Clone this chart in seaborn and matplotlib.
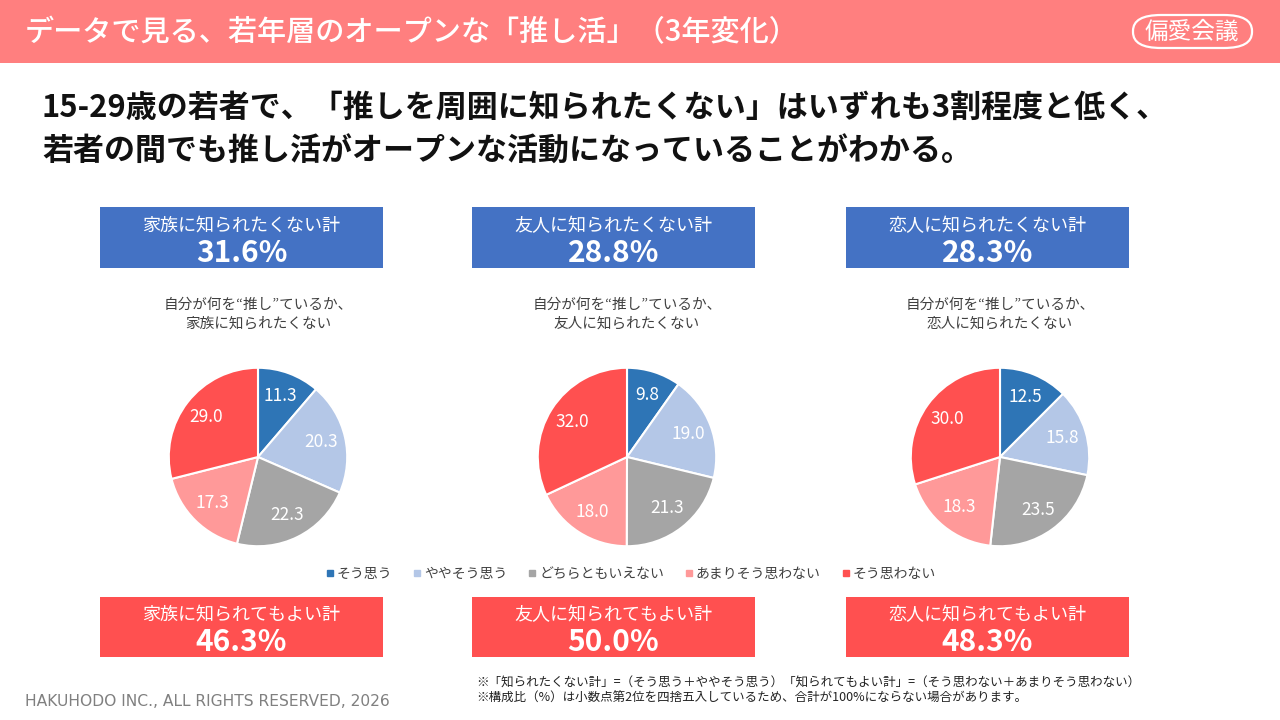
import matplotlib
matplotlib.use("Agg")
import matplotlib.pyplot as plt
from matplotlib.patches import Rectangle, FancyBboxPatch
from matplotlib.lines import Line2D
import seaborn as sns

# ---- data ----
groups = ["家族", "友人", "恋人"]
categories = ["そう思う", "ややそう思う", "どちらともいえない", "あまりそう思わない", "そう思わない"]
family = [11.3, 20.3, 22.3, 17.3, 29.0]
friend = [9.8, 19.0, 21.3, 18.0, 32.0]
partner = [12.5, 15.8, 23.5, 18.3, 30.0]
not_known_total = [31.6, 28.8, 28.3]
ok_known_total = [46.3, 50.0, 48.3]

sns.set_theme(style="white")
plt.rcParams["font.family"] = ["Noto Sans CJK JP", "DejaVu Sans"]

palette = sns.color_palette(["#2E75B6", "#B4C7E7", "#A5A5A5", "#FF9999", "#FF5050"])
BLUE_BOX = "#4472C4"
RED_BOX = "#FF5050"
HEADER = "#FF7F7F"

W, H = 1280, 720
fig = plt.figure(figsize=(12.8, 7.2), dpi=100)
fig.patch.set_facecolor("white")


def fx(x):
    return x / W


def fy(y):
    return 1 - y / H


def rect(x0, y0, x1, y1, color):
    fig.patches.append(Rectangle((fx(x0), fy(y1)), fx(x1 - x0), (y1 - y0) / H,
                                 transform=fig.transFigure, facecolor=color,
                                 edgecolor="none", zorder=0))


# ---- header ----
rect(0, 0, W, 63, HEADER)
fig.text(fx(25), fy(33), "データで見る、若年層のオープンな「推し活」（3年変化）",
         color="white", fontsize=21, fontweight="medium", va="center", ha="left")
fig.patches.append(FancyBboxPatch((fx(1133), fy(48)), fx(119), 33 / H,
                                  boxstyle="round,pad=0,rounding_size=0.022",
                                  transform=fig.transFigure, facecolor="none",
                                  edgecolor="white", linewidth=1.6))
fig.text(fx(1192), fy(32), "偏愛会議", color="white", fontsize=17,
         ha="center", va="center")

# ---- headline ----
fig.text(fx(42), fy(108), "15-29歳の若者で、「推しを周囲に知られたくない」はいずれも3割程度と低く、",
         fontsize=22.3, fontweight="bold", color="#111111", va="center")
fig.text(fx(42), fy(152), "若者の間でも推し活がオープンな活動になっていることがわかる。",
         fontsize=22.3, fontweight="bold", color="#111111", va="center")

# ---- panels ----
centers = [258, 627, 1000]
box_left = [100, 472, 846]
box_w = 283
series = [family, friend, partner]

for i, g in enumerate(groups):
    cx = centers[i]
    bx = box_left[i]
    # top blue box
    rect(bx, 207, bx + box_w, 268, BLUE_BOX)
    fig.text(fx(bx + box_w / 2), fy(226), f"{g}に知られたくない計", color="white",
             fontsize=13, ha="center", va="center")
    fig.text(fx(bx + box_w / 2), fy(253), f"{not_known_total[i]:.1f}%", color="white",
             fontsize=21.5, fontweight="bold", ha="center", va="center")
    # subtitle
    fig.text(fx(cx), fy(314), f"自分が何を“推し”ているか、\n{g}に知られたくない",
             color="#404040", fontsize=10.5, ha="center", va="center", linespacing=1.45)
    # pie
    r = 91
    ax = fig.add_axes([fx(cx - r), fy(457 + r), 2 * r / W, 2 * r / H])
    vals = series[i]
    it = iter(vals)
    ax.pie(vals, colors=palette, startangle=90, counterclock=False,
           wedgeprops=dict(edgecolor="white", linewidth=1.5),
           autopct=lambda p, it=it: f"{next(it):.1f}", pctdistance=0.73,
           textprops=dict(color="white", fontsize=12.5), radius=1.0)
    ax.set_xlim(-1.02, 1.02)
    ax.set_ylim(-1.02, 1.02)
    ax.set_aspect("equal")
    ax.axis("off")
    # bottom red box
    rect(bx, 597, bx + box_w, 657, RED_BOX)
    fig.text(fx(bx + box_w / 2), fy(615), f"{g}に知られてもよい計", color="white",
             fontsize=13, ha="center", va="center")
    fig.text(fx(bx + box_w / 2), fy(642), f"{ok_known_total[i]:.1f}%", color="white",
             fontsize=21.5, fontweight="bold", ha="center", va="center")

# ---- legend ----
handles = [Line2D([0], [0], marker="s", linestyle="none", markersize=4.5,
                  markerfacecolor=c, markeredgecolor=c) for c in palette]
fig.legend(handles, categories, loc="center", bbox_to_anchor=(fx(630), fy(574)),
           ncol=5, frameon=False, fontsize=10, handletextpad=0.1,
           columnspacing=1.4, handlelength=0.8, labelcolor="#404040")

# ---- footnotes ----
fig.text(fx(476), fy(683), "※「知られたくない計」=（そう思う＋ややそう思う）「知られてもよい計」=（そう思わない＋あまりそう思わない）",
         fontsize=9, color="#222222", va="center")
fig.text(fx(476), fy(698), "※構成比（%）は小数点第2位を四捨五入しているため、合計が100%にならない場合があります。",
         fontsize=9, color="#222222", va="center")
fig.text(fx(25), fy(702), "HAKUHODO INC., ALL RIGHTS RESERVED, 2026",
         fontsize=11.2, color="#808080", va="center", family=["DejaVu Sans"])

fig.savefig("out.png", dpi=100)
